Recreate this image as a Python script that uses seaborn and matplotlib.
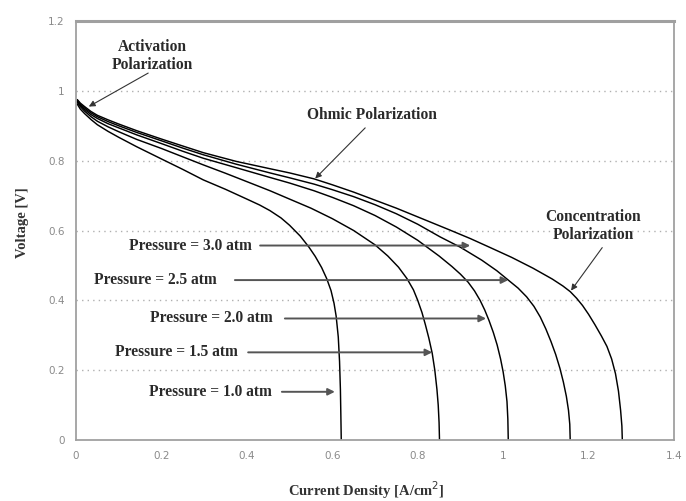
import matplotlib
matplotlib.use("Agg")
import matplotlib.pyplot as plt
import seaborn as sns
import pandas as pd

# Polarization curves (current density in A/cm^2, cell voltage in V) at five pressures
pressures = ["1.0", "1.5", "2.0", "2.5", "3.0"]

i_p10 = [0.003, 0.01, 0.02, 0.035, 0.05, 0.075, 0.1, 0.142, 0.2, 0.25, 0.298, 0.35, 0.4,
         0.43, 0.454, 0.48, 0.5, 0.525, 0.545, 0.56, 0.575, 0.587, 0.597, 0.604, 0.609,
         0.614, 0.617, 0.619, 0.62, 0.621]
v_p10 = [0.962, 0.948, 0.935, 0.918, 0.903, 0.884, 0.867, 0.84, 0.805, 0.775, 0.745, 0.718,
         0.69, 0.673, 0.657, 0.636, 0.615, 0.584, 0.553, 0.526, 0.494, 0.462, 0.428, 0.392,
         0.355, 0.295, 0.225, 0.145, 0.075, 0.0]

i_p15 = [0.003, 0.01, 0.02, 0.035, 0.05, 0.075, 0.1, 0.142, 0.2, 0.25, 0.298, 0.35, 0.4,
         0.454, 0.5, 0.55, 0.6, 0.65, 0.7, 0.73, 0.755, 0.775, 0.79, 0.80, 0.81, 0.818,
         0.826, 0.834, 0.84, 0.845, 0.848, 0.85, 0.851]
v_p15 = [0.967, 0.955, 0.942, 0.926, 0.913, 0.897, 0.883, 0.861, 0.835, 0.811, 0.788, 0.764,
         0.74, 0.714, 0.69, 0.664, 0.634, 0.6, 0.559, 0.527, 0.495, 0.462, 0.43, 0.40, 0.365,
         0.33, 0.292, 0.248, 0.2, 0.145, 0.1, 0.05, 0.0]

i_p20 = [0.003, 0.01, 0.02, 0.035, 0.05, 0.075, 0.1, 0.142, 0.2, 0.25, 0.298, 0.375, 0.454,
         0.5, 0.557, 0.6, 0.65, 0.7, 0.75, 0.8, 0.85, 0.88, 0.9, 0.918, 0.933, 0.946, 0.957,
         0.967, 0.977, 0.986, 0.994, 1.0, 1.005, 1.009, 1.011, 1.012]
v_p20 = [0.97, 0.959, 0.947, 0.932, 0.921, 0.906, 0.894, 0.874, 0.849, 0.827, 0.807, 0.78,
         0.752, 0.736, 0.714, 0.695, 0.671, 0.643, 0.61, 0.572, 0.527, 0.497, 0.475, 0.452,
         0.427, 0.4, 0.372, 0.342, 0.308, 0.272, 0.232, 0.195, 0.155, 0.11, 0.06, 0.0]

i_p25 = [0.003, 0.01, 0.02, 0.035, 0.05, 0.075, 0.1, 0.142, 0.2, 0.25, 0.298, 0.375, 0.454,
         0.5, 0.557, 0.6, 0.65, 0.7, 0.75, 0.8, 0.852, 0.9, 0.95, 0.985, 1.012, 1.035, 1.055,
         1.072, 1.087, 1.1, 1.112, 1.123, 1.133, 1.141, 1.148, 1.153, 1.156, 1.157]
v_p25 = [0.973, 0.962, 0.951, 0.937, 0.926, 0.912, 0.9, 0.881, 0.857, 0.836, 0.817, 0.79,
         0.765, 0.751, 0.733, 0.717, 0.697, 0.674, 0.648, 0.618, 0.582, 0.552, 0.515, 0.485,
         0.458, 0.435, 0.41, 0.383, 0.352, 0.318, 0.282, 0.245, 0.205, 0.166, 0.125, 0.085,
         0.045, 0.0]

i_p30 = [0.003, 0.01, 0.02, 0.035, 0.05, 0.075, 0.1, 0.142, 0.2, 0.25, 0.298, 0.375, 0.454,
         0.5, 0.557, 0.6, 0.65, 0.7, 0.75, 0.8, 0.876, 0.923, 0.97, 1.02, 1.07, 1.115, 1.14,
         1.157, 1.172, 1.186, 1.2, 1.215, 1.23, 1.243, 1.254, 1.263, 1.27, 1.275, 1.278, 1.279]
v_p30 = [0.975, 0.965, 0.955, 0.941, 0.93, 0.917, 0.905, 0.886, 0.862, 0.842, 0.823, 0.798,
         0.777, 0.765, 0.748, 0.731, 0.71, 0.687, 0.664, 0.639, 0.601, 0.577, 0.551, 0.523,
         0.492, 0.461, 0.441, 0.425, 0.406, 0.385, 0.36, 0.33, 0.298, 0.268, 0.232, 0.19,
         0.14, 0.085, 0.04, 0.0]

curves = {"1.0": (i_p10, v_p10), "1.5": (i_p15, v_p15), "2.0": (i_p20, v_p20),
          "2.5": (i_p25, v_p25), "3.0": (i_p30, v_p30)}

# Pressure labels: text centre x, label height, arrow tail x, arrow tip x
label_x = [0.314, 0.234, 0.316, 0.185, 0.269]
label_v = [0.138, 0.251, 0.348, 0.458, 0.557]
arrow_tail_x = [0.482, 0.403, 0.489, 0.372, 0.431]
arrow_tip_x = [0.606, 0.834, 0.960, 1.012, 0.923]

x_ticks = [0, 0.2, 0.4, 0.6, 0.8, 1.0, 1.2, 1.4]
x_tick_labels = ["0", "0.2", "0.4", "0.6", "0.8", "1", "1.2", "1.4"]
y_ticks = [0, 0.2, 0.4, 0.6, 0.8, 1.0, 1.2]
y_tick_labels = ["0", "0.2", "0.4", "0.6", "0.8", "1", "1.2"]

frames = []
for p in pressures:
    cur, volt = curves[p]
    frames.append(pd.DataFrame({"current": cur, "voltage": volt, "pressure": p}))
df = pd.concat(frames, ignore_index=True)

sns.set_theme(style="white")
plt.rcParams["font.family"] = ["Liberation Serif", "DejaVu Serif"]

fig = plt.figure(figsize=(6.86, 5.01), dpi=100)
ax = fig.add_axes([0.1108, 0.1218, 0.8717, 0.8362])

sns.lineplot(data=df, x="current", y="voltage", hue="pressure", units="pressure",
             estimator=None, sort=False, palette=["black"] * 5, linewidth=1.05,
             legend=False, ax=ax)

ax.set_xlim(0, 1.4)
ax.set_ylim(0, 1.2)
ax.set_xticks(x_ticks)
ax.set_xticklabels(x_tick_labels)
ax.set_yticks(y_ticks)
ax.set_yticklabels(y_tick_labels)
ax.tick_params(axis="both", direction="inout", length=4, width=0.8, color="#999999",
               labelcolor="#8a8a8a", labelsize=7.5, pad=6)
for lab in ax.get_xticklabels() + ax.get_yticklabels():
    lab.set_family("DejaVu Sans")

for y in y_ticks[1:-1]:
    ax.axhline(y, color="#b0b0b0", linestyle=(0, (1, 3)), linewidth=1.0, zorder=0)

for side in ["left", "bottom", "right"]:
    ax.spines[side].set_color("#a0a0a0")
    ax.spines[side].set_linewidth(1.3)
ax.spines["top"].set_color("#a0a0a0")
ax.spines["top"].set_linewidth(2.2)

ax.set_xlabel("Current Density [A/cm$^2$]", fontsize=10.5, fontweight="bold",
              color="#333333")
ax.xaxis.set_label_coords(0.485, -0.095)
ax.set_ylabel("Voltage [V]", fontsize=10.5, fontweight="bold", color="#333333")
ax.yaxis.set_label_coords(-0.078, 0.52)

txt_kw = dict(fontsize=11.2, fontweight="bold", color="#2a2a2a", ha="center", va="center")
thin_arrow = dict(arrowstyle="-|>", color="#333333", lw=0.8, mutation_scale=9,
                  shrinkA=0, shrinkB=0)
thick_arrow = dict(arrowstyle="-|>", color="#555555", lw=1.4, mutation_scale=10,
                   shrinkA=0, shrinkB=0)

# Region annotations
ax.text(0.178, 1.10, "Activation\nPolarization", linespacing=1.15, **txt_kw)
ax.annotate("", xy=(0.03, 0.955), xytext=(0.169, 1.051), arrowprops=thin_arrow)
ax.text(0.693, 0.931, "Ohmic Polarization", **txt_kw)
ax.annotate("", xy=(0.56, 0.749), xytext=(0.677, 0.894), arrowprops=thin_arrow)
ax.text(1.211, 0.613, "Concentration\nPolarization", linespacing=1.15, **txt_kw)
ax.annotate("", xy=(1.159, 0.428), xytext=(1.232, 0.551), arrowprops=thin_arrow)

# Pressure labels with arrows pointing to their curves
for p, lx, lv, tx, hx in zip(pressures, label_x, label_v, arrow_tail_x, arrow_tip_x):
    ax.text(lx, lv, f"Pressure = {p} atm", **txt_kw)
    ax.annotate("", xy=(hx, lv), xytext=(tx, lv), arrowprops=thick_arrow)

fig.savefig("out.png", dpi=100)
